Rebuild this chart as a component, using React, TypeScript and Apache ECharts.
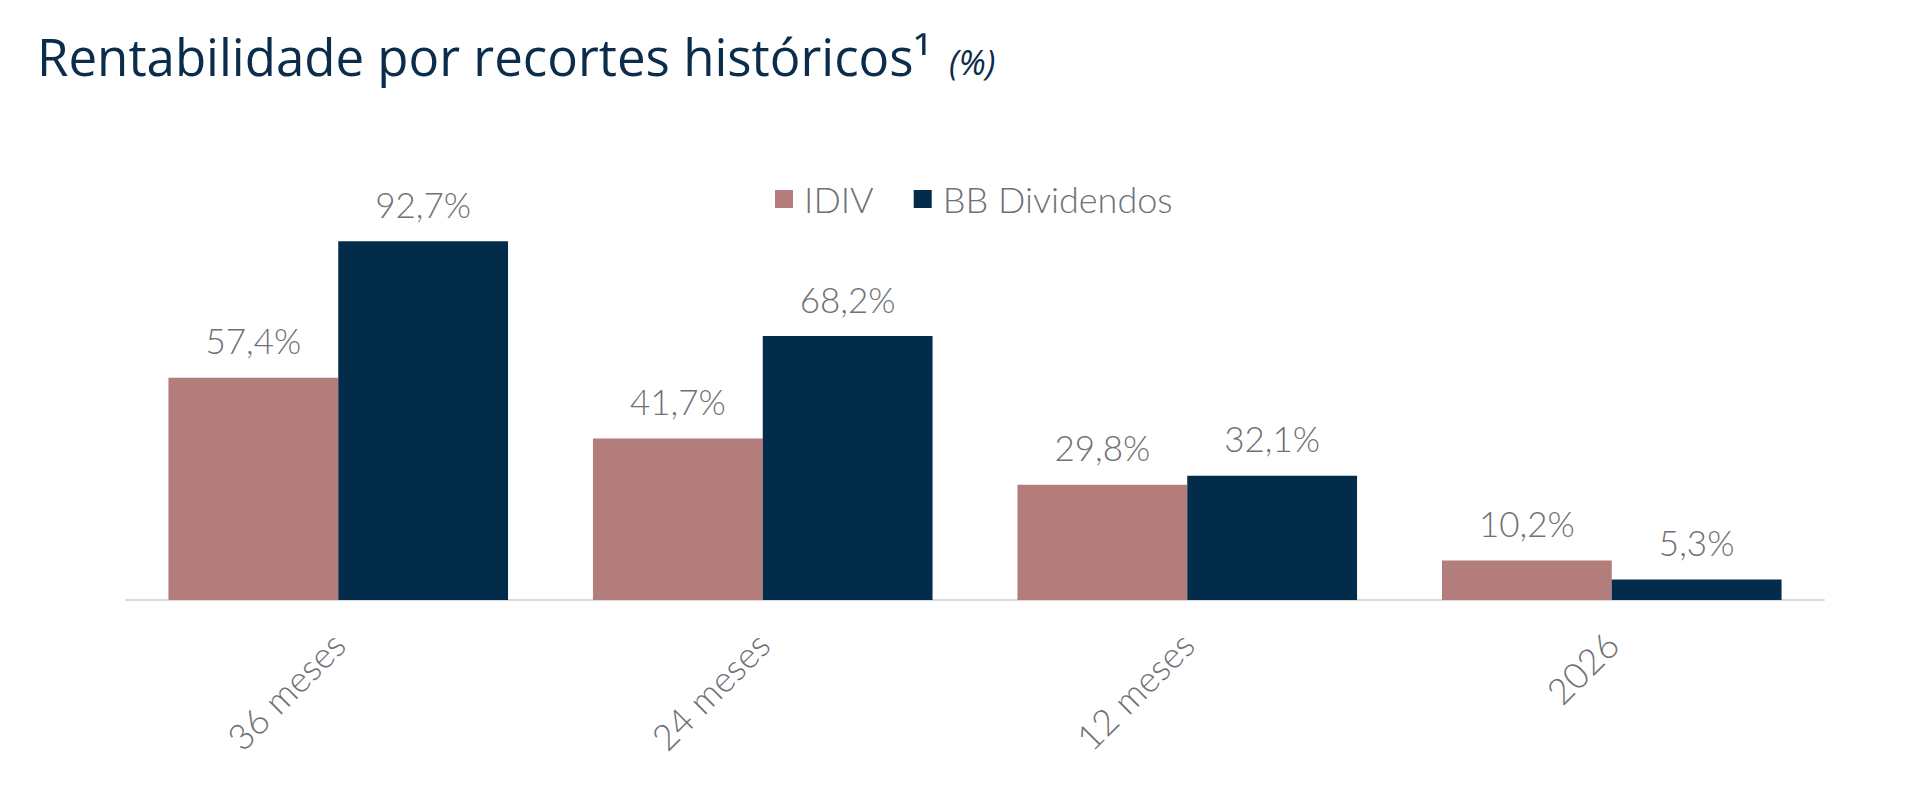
import React, { useEffect, useRef } from "react";
import * as echarts from "echarts";

const categories = ["36 meses", "24 meses", "12 meses", "2026"];
const idivValues = [57.4, 41.7, 29.8, 10.2];
const bbValues = [92.7, 68.2, 32.1, 5.3];
const seriesNames = ["IDIV", "BB Dividendos"];
const titleMain = "Rentabilidade por recortes históricos¹";
const titleUnit = "(%)";

const FONT = "Lato";
const TITLE_FONT = "Open Sans";
const GRAY = "#707076";
const NAVY_TEXT = "#0b2c4b";

const fmt = (v: number) => v.toFixed(1).replace(".", ",") + "%";

export default function App() {
  const ref = useRef<HTMLDivElement>(null);
  useEffect(() => {
    if (!ref.current) return;
    const chart = echarts.init(ref.current, undefined, { renderer: "svg" });
    const labelCfg = {
      show: true,
      position: "top" as const,
      distance: 20,
      fontFamily: FONT,
      fontWeight: 300,
      fontSize: 35,
      color: GRAY,
      formatter: (p: any) => fmt(p.value),
    };
    chart.setOption({
      animation: false,
      backgroundColor: "#ffffff",
      title: [
        {
          left: 32,
          top: 21,
          text: titleMain,
          textStyle: {
            fontFamily: TITLE_FONT,
            fontWeight: "normal",
            fontSize: 51,
            color: NAVY_TEXT,
            lineHeight: 60,
          },
        },
        {
          left: 944,
          top: 37,
          text: titleUnit,
          textStyle: {
            fontFamily: TITLE_FONT,
            fontWeight: "normal",
            fontStyle: "italic",
            fontSize: 34,
            color: NAVY_TEXT,
            lineHeight: 40,
          },
        },
      ],
      legend: {
        data: seriesNames,
        left: 770,
        top: 176,
        icon: "rect",
        itemWidth: 18,
        itemHeight: 18,
        itemGap: 40,
        textStyle: {
          fontFamily: FONT,
          fontWeight: 300,
          fontSize: 36,
          color: GRAY,
          padding: [0, 0, 0, 6],
        },
      },
      grid: { left: 126, right: 96, top: 213, bottom: 189, containLabel: false },
      xAxis: {
        type: "category",
        data: categories,
        axisLine: { show: true, lineStyle: { color: "#d9d9d9", width: 2 } },
        axisTick: { show: false },
        axisLabel: {
          rotate: 45,
          margin: 38,
          fontFamily: FONT,
          fontWeight: 300,
          fontSize: 36,
          color: GRAY,
        },
      },
      yAxis: { type: "value", min: 0, max: 100, show: false, splitLine: { show: false } },
      series: [
        {
          name: seriesNames[0],
          type: "bar",
          data: idivValues,
          barGap: "0%",
          barCategoryGap: "20%",
          itemStyle: { color: "#b27d7b" },
          label: labelCfg,
        },
        {
          name: seriesNames[1],
          type: "bar",
          data: bbValues,
          barGap: "0%",
          barCategoryGap: "20%",
          itemStyle: { color: "#022c4a" },
          label: labelCfg,
        },
      ],
    });
    return () => chart.dispose();
  }, []);
  return (
    <div
      ref={ref}
      style={{ position: "absolute", left: 0, top: 0, width: 1920, height: 789, background: "#fff" }}
    />
  );
}
